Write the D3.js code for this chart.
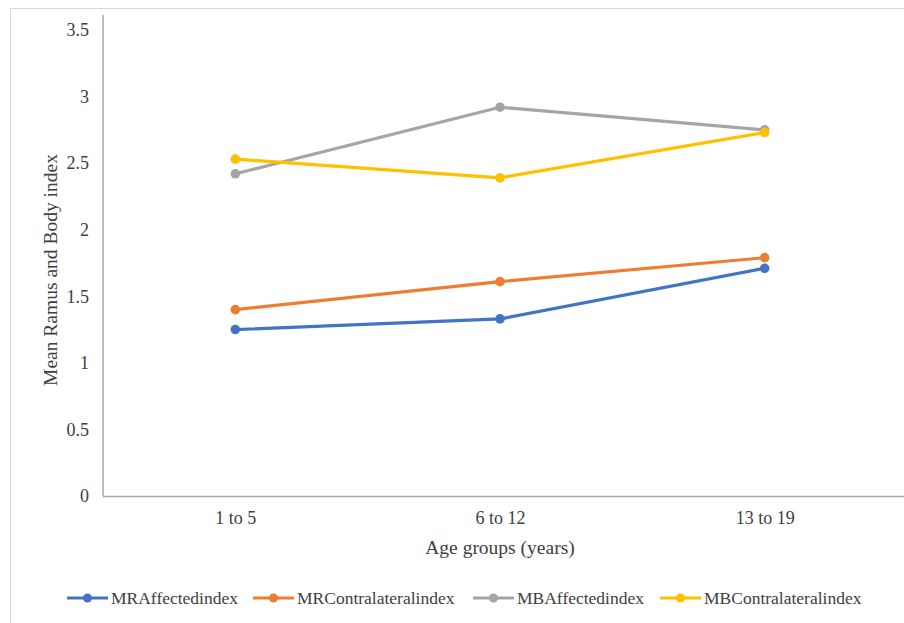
<!DOCTYPE html>
<html>
<head>
<meta charset="utf-8">
<script src="https://cdn.jsdelivr.net/npm/d3@7"></script>
<style>
  html, body { margin: 0; padding: 0; background: #ffffff; }
  svg { display: block; }
  text { font-family: "Liberation Serif", "Times New Roman", serif; fill: #404040; }
</style>
</head>
<body>
<svg id="chart" width="904" height="623"></svg>
<script>
// Age groups on the category axis
const categories = ["1 to 5", "6 to 12", "13 to 19"];

// Mean ramus / body index per age group
const mrAffected      = [1.25, 1.33, 1.71];
const mrContralateral = [1.40, 1.61, 1.79];
const mbAffected      = [2.42, 2.92, 2.75];
const mbContralateral = [2.53, 2.39, 2.73];

const seriesNames  = ["MRAffectedindex", "MRContralateralindex", "MBAffectedindex", "MBContralateralindex"];
const seriesColors = ["#4472C4", "#ED7D31", "#A5A5A5", "#FFC000"];
const yTicks = [0, 0.5, 1, 1.5, 2, 2.5, 3, 3.5];

const series = [mrAffected, mrContralateral, mbAffected, mbContralateral].map((vals, i) => ({
  name: seriesNames[i],
  color: seriesColors[i],
  values: vals.map((v, j) => ({ cat: categories[j], v }))
}));

const FONT = "'Liberation Serif', 'Times New Roman', serif";
const svg = d3.select("#chart");

// outer chart frame
svg.append("rect")
  .attr("x", 10.5).attr("y", 8.5)
  .attr("width", 920).attr("height", 640)
  .attr("fill", "#ffffff")
  .attr("stroke", "#D9D9D9").attr("stroke-width", 1);

const x = d3.scalePoint().domain(categories).range([103, 897]).padding(0.5);
const y = d3.scaleLinear().domain([0, 3.5]).range([496, 30]);

// y axis
const yAxis = svg.append("g")
  .attr("transform", "translate(103,0)")
  .call(d3.axisLeft(y).tickValues(yTicks).tickSize(0).tickPadding(14)
        .tickFormat(d => d3.format("")(d)));
yAxis.attr("font-family", FONT);
yAxis.select(".domain").remove();
yAxis.selectAll("text")
  .style("font-family", FONT)
  .style("font-size", "18px").attr("fill", "#404040");
svg.append("line")
  .attr("x1", 103).attr("x2", 103).attr("y1", 15).attr("y2", 496)
  .attr("stroke", "#A6A6A6").attr("stroke-width", 1.5);

// x axis
const xAxis = svg.append("g")
  .attr("transform", "translate(0,496)")
  .call(d3.axisBottom(x).tickSize(0).tickPadding(15));
xAxis.attr("font-family", FONT);
xAxis.select(".domain").remove();
xAxis.selectAll("text")
  .style("font-family", FONT)
  .style("font-size", "18px").attr("fill", "#404040");
svg.append("line")
  .attr("x1", 103).attr("x2", 904).attr("y1", 496.5).attr("y2", 496.5)
  .attr("stroke", "#A6A6A6").attr("stroke-width", 1.5);

// axis titles
svg.append("text")
  .attr("transform", "translate(57,270) rotate(-90)")
  .attr("text-anchor", "middle")
  .style("font-size", "19.5px")
  .text("Mean Ramus and Body index");
svg.append("text")
  .attr("x", 500).attr("y", 554)
  .attr("text-anchor", "middle")
  .style("font-size", "19.5px")
  .text("Age groups (years)");

// lines and markers
const line = d3.line().x(d => x(d.cat)).y(d => y(d.v));
const g = svg.append("g");
series.forEach(s => {
  g.append("path")
    .datum(s.values)
    .attr("d", line)
    .attr("fill", "none")
    .attr("stroke", s.color)
    .attr("stroke-width", 3.2)
    .attr("stroke-linejoin", "round");
  g.selectAll(null).data(s.values).enter().append("circle")
    .attr("cx", d => x(d.cat)).attr("cy", d => y(d.v))
    .attr("r", 4.8)
    .attr("fill", s.color);
});

// legend
const legendItems = [
  { x0: 67, x1: 108, tx: 111 },
  { x0: 253, x1: 294, tx: 297 },
  { x0: 473, x1: 514, tx: 517 },
  { x0: 660, x1: 701, tx: 704 }
];
const legY = 598;
const leg = svg.append("g");
series.forEach((s, i) => {
  const it = legendItems[i];
  leg.append("line")
    .attr("x1", it.x0).attr("x2", it.x1).attr("y1", legY).attr("y2", legY)
    .attr("stroke", s.color).attr("stroke-width", 3.2);
  leg.append("circle")
    .attr("cx", (it.x0 + it.x1) / 2).attr("cy", legY).attr("r", 4.5)
    .attr("fill", s.color);
  leg.append("text")
    .attr("x", it.tx).attr("y", legY + 6)
    .style("font-size", "17.5px")
    .text(s.name);
});
</script>
</body>
</html>
